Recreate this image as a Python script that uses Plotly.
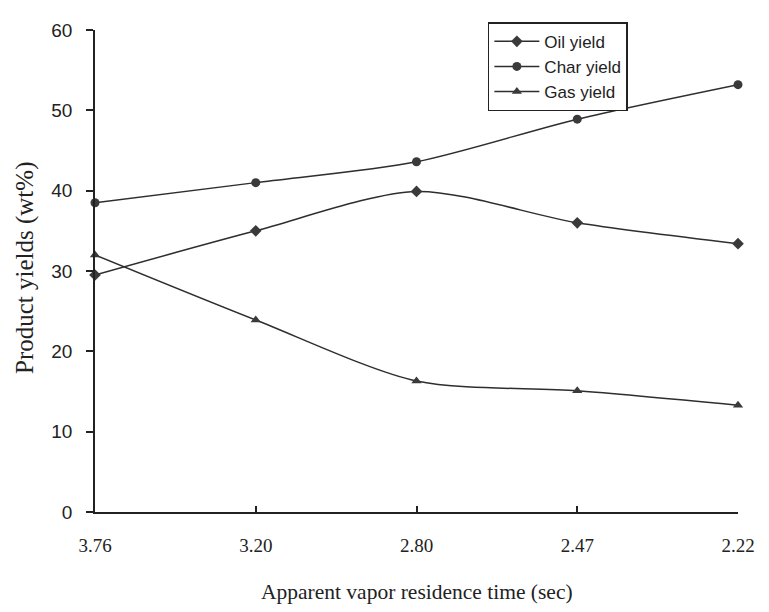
import plotly.graph_objects as go

categories = ["3.76", "3.20", "2.80", "2.47", "2.22"]
oil_yield = [29.5, 35.0, 39.9, 36.0, 33.4]
char_yield = [38.5, 41.0, 43.6, 48.9, 53.2]
gas_yield = [32.0, 23.9, 16.3, 15.1, 13.3]
y_ticks = [0, 10, 20, 30, 40, 50, 60]

x_idx = list(range(len(categories)))

line_col = "#2e2e2e"
series = [
    ("Oil yield", oil_yield, "diamond", 9),
    ("Char yield", char_yield, "circle", 9),
    ("Gas yield", gas_yield, "triangle-up", 9),
]

fig = go.Figure()
for name, vals, sym, sz in series:
    fig.add_trace(go.Scatter(
        x=x_idx, y=vals, name=name, mode="lines+markers",
        line=dict(color=line_col, width=1.5, shape="spline", smoothing=0.8),
        marker=dict(symbol=sym, size=sz, color="#3a3a3a"),
        cliponaxis=False,
    ))

# the page body adds an 8px offset; margins compensate so the plot area
# sits at x 95..738, y 20..512 in the window
fig.update_layout(
    width=769, height=612,
    margin=dict(l=87, r=39, t=12, b=108),
    paper_bgcolor="white", plot_bgcolor="white",
    showlegend=True,
    legend=dict(
        x=0.611, y=1.016, xanchor="left", yanchor="top",
        bgcolor="white", bordercolor="#222", borderwidth=1.5,
        font=dict(family="Liberation Sans, Arial", size=17, color="#222"),
        tracegroupgap=0, itemwidth=45,
    ),
    xaxis=dict(
        range=[0, 4], tickmode="array", tickvals=x_idx, ticktext=categories,
        showgrid=False, zeroline=False, showline=True, linecolor="#222", linewidth=1.5,
        ticks="inside", ticklen=6, tickcolor="#222", tickwidth=1.5,
        tickfont=dict(family="Liberation Serif, Times New Roman", size=19, color="#222"),
        ticklabelstandoff=15,
    ),
    yaxis=dict(
        range=[0, 60], tickmode="array", tickvals=y_ticks,
        showgrid=False, zeroline=False, showline=True, linecolor="#222", linewidth=1.5,
        ticks="outside", ticklen=7, tickcolor="#222", tickwidth=1.5,
        tickfont=dict(family="Liberation Sans, Arial", size=19, color="#222"),
        ticklabelstandoff=10,
    ),
    annotations=[
        dict(text="Apparent vapor residence time (sec)", xref="paper", yref="paper",
             x=0.5, y=0, yshift=-80, xanchor="center", yanchor="middle", showarrow=False,
             font=dict(family="Liberation Serif, Times New Roman", size=21.5, color="#222")),
        dict(text="Product yields (wt%)", xref="paper", yref="paper",
             x=0, y=0.5, xshift=-70, yshift=3, xanchor="center", yanchor="middle", showarrow=False,
             textangle=-90,
             font=dict(family="Liberation Serif, Times New Roman", size=25, color="#222")),
    ],
)

fig.write_html("out.html")
